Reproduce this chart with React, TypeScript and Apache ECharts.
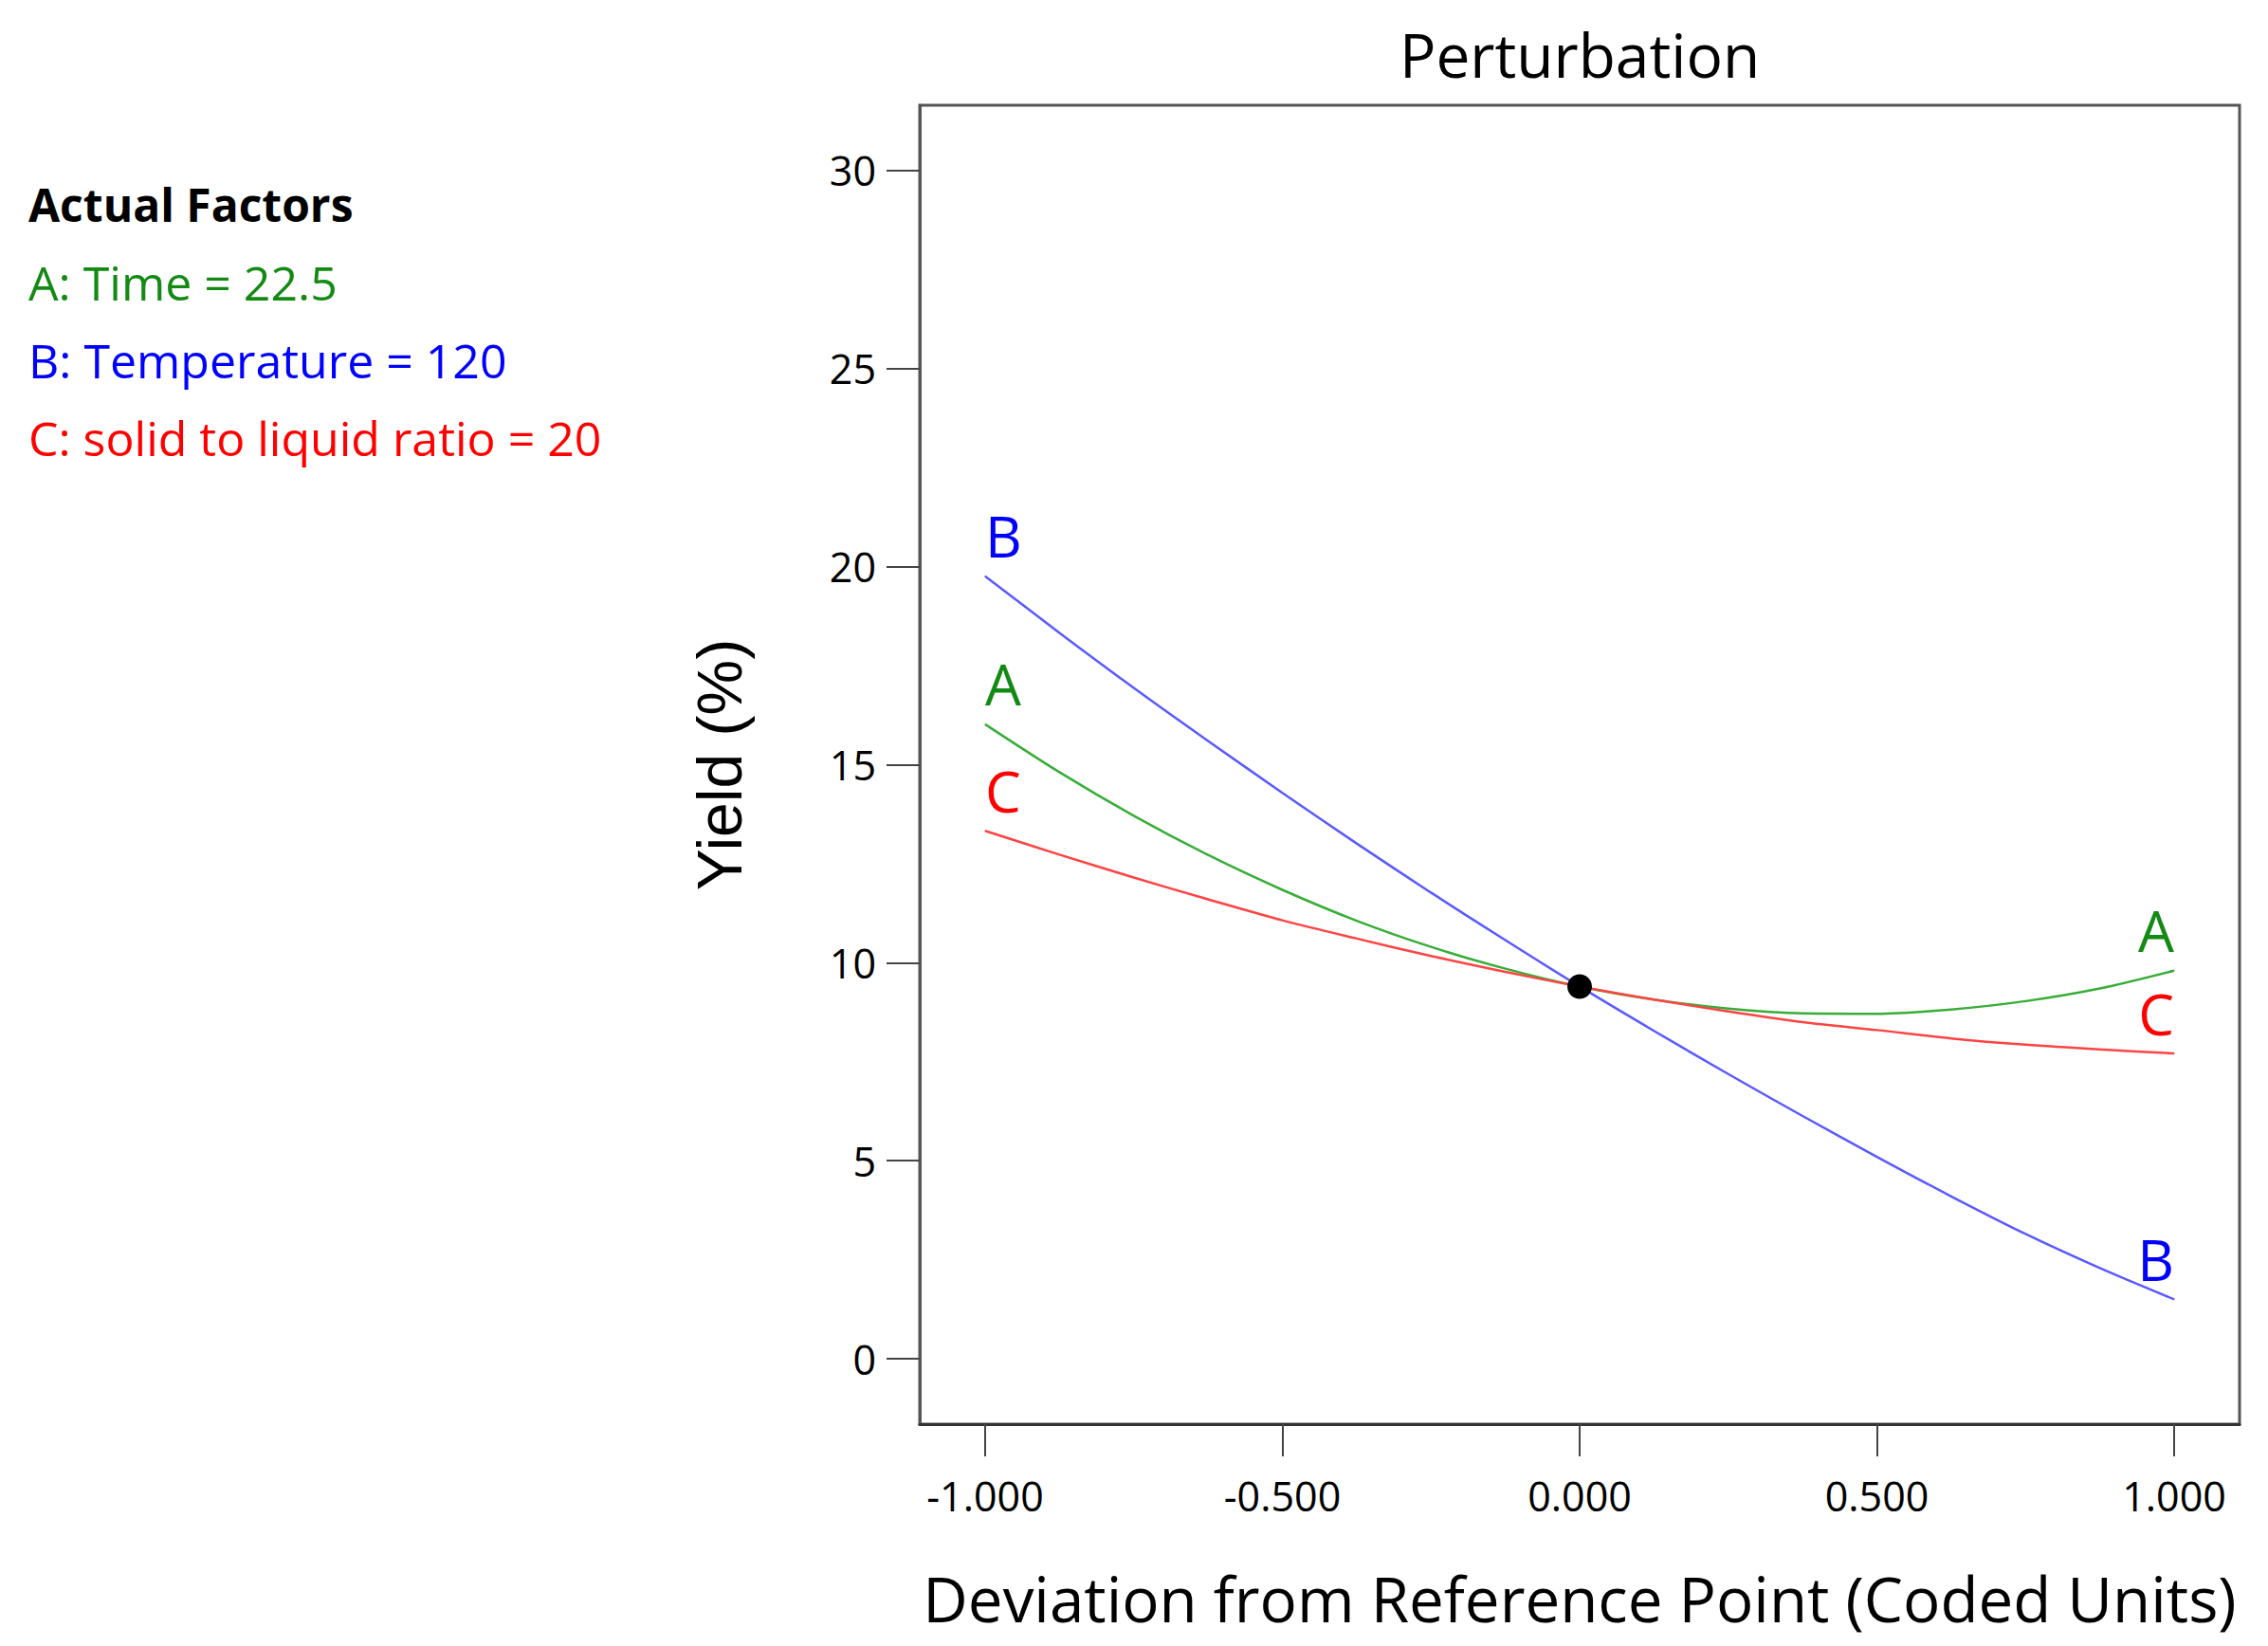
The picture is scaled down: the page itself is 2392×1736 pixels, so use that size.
import React, { useEffect, useRef } from "react";
import * as echarts from "echarts";

// Coded deviation from the reference point
const xValues = [
  -1, -0.875, -0.75, -0.625, -0.5, -0.375, -0.25, -0.125, 0,
  0.125, 0.25, 0.375, 0.5, 0.625, 0.75, 0.875, 1,
];
// Yield (%)
const seriesA = [
  16.02, 14.81, 13.71, 12.72, 11.84, 11.06, 10.4, 9.85, 9.4,
  9.07, 8.84, 8.72, 8.71, 8.82, 9.03, 9.35, 9.8,
];
const seriesB = [
  19.76, 18.33, 16.94, 15.6, 14.29, 13.01, 11.77, 10.57, 9.4,
  8.28, 7.19, 6.13, 5.1, 4.1, 3.15, 2.29, 1.5,
];
const seriesC = [
  13.33, 12.73, 12.15, 11.6, 11.07, 10.61, 10.17, 9.77, 9.4,
  9.07, 8.77, 8.5, 8.3, 8.09, 7.93, 7.81, 7.71,
];
const referencePoint = [0, 9.4];

const xTickValues = [-1, -0.5, 0, 0.5, 1];
const xTickLabels = ["-1.000", "-0.500", "0.000", "0.500", "1.000"];
const yTickValues = [0, 5, 10, 15, 20, 25, 30];
const yTickLabels = ["0", "5", "10", "15", "20", "25", "30"];

const factorTitle = "Actual Factors";
const factorLines = [
  "A: Time = 22.5",
  "B: Temperature = 120",
  "C: solid to liquid ratio = 20",
];
const curveNames = ["A", "B", "C"];
const textColors = ["#138a13", "#0000ff", "#ff0000"];
const lineColors = ["#38ad38", "#5a5aff", "#ff4444"];

const FONT = "'Open Sans', 'Noto Sans', sans-serif";

function buildSeriesData(values: number[], name: string, color: string) {
  return values.map((v, i) => {
    const item: any = { value: [xValues[i], v] };
    if (i === 0 || i === values.length - 1) {
      item.label = {
        show: true,
        formatter: name,
        position: "top",
        distance: 12,
        align: i === 0 ? "left" : "right",
        color,
        fontSize: 60,
        fontFamily: FONT,
      };
    }
    return item;
  });
}

export default function App() {
  const ref = useRef<HTMLDivElement>(null);
  useEffect(() => {
    document.body.style.margin = "0";
    if (!ref.current) return;
    const chart = echarts.init(ref.current, null, { renderer: "svg" });
    const all = [seriesA, seriesB, seriesC];
    const option: any = {
      animation: false,
      backgroundColor: "#ffffff",
      grid: {
        left: 970,
        right: 30,
        top: 111,
        bottom: 234,
        containLabel: false,
        show: true,
        borderColor: "#555555",
        borderWidth: 3,
        backgroundColor: "transparent",
      },
      xAxis: {
        type: "value",
        min: -1.11,
        max: 1.11,
        name: "Deviation from Reference Point (Coded Units)",
        nameLocation: "middle",
        nameGap: 150,
        nameTextStyle: { fontSize: 65.5, fontFamily: FONT, color: "#000" },
        axisLine: { show: true, onZero: false, lineStyle: { color: "#333", width: 3 } },
        axisTick: {
          show: true,
          inside: false,
          length: 34,
          customValues: xTickValues,
          lineStyle: { color: "#444", width: 2 },
        },
        axisLabel: {
          show: true,
          margin: 54,
          customValues: xTickValues,
          fontSize: 43,
          fontFamily: FONT,
          color: "#000",
          formatter: (v: number) => xTickLabels[xTickValues.indexOf(v)] ?? "",
        },
        splitLine: { show: false },
      },
      yAxis: {
        type: "value",
        min: -1.65,
        max: 31.65,
        name: "Yield (%)",
        nameLocation: "middle",
        nameGap: 178,
        nameRotate: 90,
        nameTextStyle: { fontSize: 66, fontFamily: "'Liberation Sans', Arial, sans-serif", color: "#000" },
        axisLine: { show: true, onZero: false, lineStyle: { color: "#555", width: 3 } },
        axisTick: {
          show: true,
          inside: false,
          length: 35,
          customValues: yTickValues,
          lineStyle: { color: "#444", width: 2 },
        },
        axisLabel: {
          show: true,
          margin: 46,
          customValues: yTickValues,
          fontSize: 43,
          fontFamily: FONT,
          color: "#000",
          formatter: (v: number) => yTickLabels[yTickValues.indexOf(v)] ?? "",
        },
        splitLine: { show: false },
      },
      graphic: [
        {
          type: "text",
          x: 1666,
          y: 57,
          style: {
            text: "Perturbation",
            fontSize: 64,
            fontFamily: FONT,
            fill: "#000",
            align: "center",
            verticalAlign: "middle",
          },
        },
        {
          type: "text",
          x: 30,
          y: 215,
          style: {
            text: factorTitle,
            fontSize: 48,
            fontWeight: "bold",
            fontFamily: FONT,
            fill: "#000",
            verticalAlign: "middle",
          },
        },
        ...factorLines.map((t, i) => ({
          type: "text",
          x: 30,
          y: [298, 380, 462][i],
          style: {
            text: t,
            fontSize: 50,
            fontFamily: FONT,
            fill: textColors[i],
            verticalAlign: "middle",
          },
        })),
      ],
      series: [
        ...all.map((vals, i) => ({
          type: "line",
          name: curveNames[i],
          data: buildSeriesData(vals, curveNames[i], textColors[i]),
          smooth: 0.3,
          symbol: "circle",
          symbolSize: 1,
          showSymbol: true,
          showAllSymbol: true,
          lineStyle: { color: lineColors[i], width: 2.5 },
          itemStyle: { color: lineColors[i] },
          emphasis: { disabled: true },
          z: 2,
        })),
        {
          type: "scatter",
          data: [referencePoint],
          symbolSize: 26,
          itemStyle: { color: "#000", opacity: 1 },
          emphasis: { disabled: true },
          z: 5,
        },
      ],
    };
    chart.setOption(option);
    return () => chart.dispose();
  }, []);
  return <div ref={ref} style={{ width: 2392, height: 1736 }} />;
}
